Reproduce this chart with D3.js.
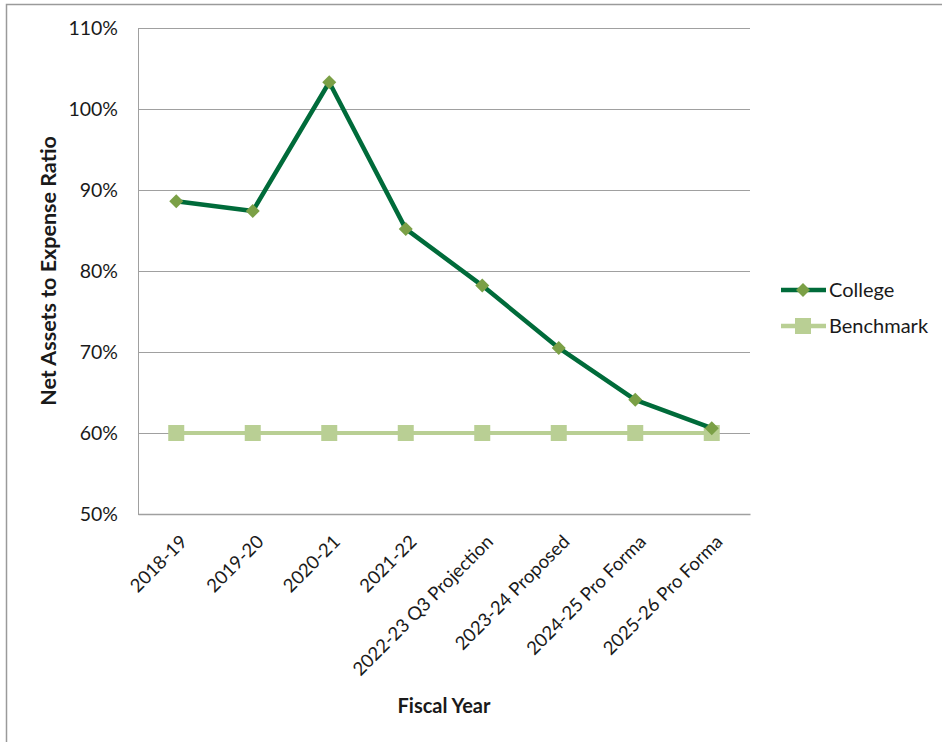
<!DOCTYPE html>
<html>
<head>
<meta charset="utf-8">
<script src="https://cdn.jsdelivr.net/npm/d3@7"></script>
<style>
  body { margin: 0; background: #fff; }
  text { font-family: Lato, "Open Sans", sans-serif; fill: #1a1a1a; }
</style>
</head>
<body>
<div id="chart"></div>
<script>
// chart data
const categories = ["2018-19", "2019-20", "2020-21", "2021-22", "2022-23 Q3 Projection",
    "2023-24 Proposed", "2024-25 Pro Forma", "2025-26 Pro Forma"];
const college = [0.886, 0.874, 1.033, 0.852, 0.782, 0.705, 0.641, 0.606];
const benchmark = [0.60, 0.60, 0.60, 0.60, 0.60, 0.60, 0.60, 0.60];
const yTicks = [0.5, 0.6, 0.7, 0.8, 0.9, 1.0, 1.1];
const seriesNames = ["College", "Benchmark"];

const width = 942, height = 742;
const margin = {top: 28, left: 138, right: 192, bottom: 228};
const plotW = width - margin.left - margin.right;
const plotH = height - margin.top - margin.bottom;

const svg = d3.select("#chart").append("svg")
    .attr("width", width)
    .attr("height", height);

// outer frame (runs off the right/bottom edge like the original)
svg.append("rect")
    .attr("x", 6.5).attr("y", 4.5)
    .attr("width", 960).attr("height", 760)
    .attr("fill", "none")
    .attr("stroke", "#9a9a9a")
    .attr("stroke-width", 1.5);

const g = svg.append("g").attr("transform", `translate(${margin.left},${margin.top})`);

const x = d3.scaleBand().domain(categories).range([0, plotW]);
const y = d3.scaleLinear().domain([0.5, 1.1]).range([plotH, 0]);
const cx = d => x(d) + x.bandwidth() / 2;

// gridlines
g.append("g")
    .selectAll("line")
    .data(yTicks)
    .enter().append("line")
    .attr("x1", 0).attr("x2", plotW)
    .attr("y1", d => Math.round(y(d)) + 0.5)
    .attr("y2", d => Math.round(y(d)) + 0.5)
    .attr("stroke", "#a0a0a0")
    .attr("stroke-width", 1);

// y axis
const yAxis = g.append("g")
    .call(d3.axisLeft(y).tickValues(yTicks).tickFormat(d3.format(".0%")).tickSize(0).tickPadding(20));
yAxis.select(".domain").attr("stroke", "#a0a0a0");
yAxis.selectAll("text")
    .style("font-size", "19.5px")
    .attr("fill", "#1a1a1a");

// x axis
const xAxis = g.append("g")
    .attr("transform", `translate(0,${plotH})`)
    .call(d3.axisBottom(x).tickSize(0).tickPadding(0));
xAxis.select(".domain").attr("stroke", "#a0a0a0").attr("stroke-width", 1.5);
xAxis.selectAll("text")
    .style("font-size", "18.5px")
    .attr("fill", "#1a1a1a")
    .attr("text-anchor", "end")
    .attr("dy", 0)
    .attr("transform", "translate(12,29) rotate(-45)");

// benchmark series
const line = d3.line()
    .x((d, i) => cx(categories[i]))
    .y(d => y(d));

g.append("path")
    .datum(benchmark)
    .attr("d", line)
    .attr("fill", "none")
    .attr("stroke", "#b9cf94")
    .attr("stroke-width", 4);

g.append("g")
    .selectAll("rect")
    .data(benchmark)
    .enter().append("rect")
    .attr("x", (d, i) => cx(categories[i]) - 8)
    .attr("y", d => y(d) - 8)
    .attr("width", 16).attr("height", 16)
    .attr("fill", "#b9cf94");

// college series
g.append("path")
    .datum(college)
    .attr("d", line)
    .attr("fill", "none")
    .attr("stroke", "#006b3a")
    .attr("stroke-width", 4.5)
    .attr("stroke-linejoin", "round");

g.append("g")
    .selectAll("path")
    .data(college)
    .enter().append("path")
    .attr("d", d3.symbol(d3.symbolDiamond2, 125))
    .attr("transform", (d, i) => `translate(${cx(categories[i])},${y(d)})`)
    .attr("fill", "#7ba046");

// axis titles
svg.append("text")
    .attr("x", margin.left + plotW / 2)
    .attr("y", 713)
    .attr("text-anchor", "middle")
    .style("font-size", "20px")
    .style("font-weight", "bold")
    .text("Fiscal Year");

svg.append("text")
    .attr("transform", `translate(56,${margin.top + plotH / 2}) rotate(-90)`)
    .attr("text-anchor", "middle")
    .style("font-size", "21.5px")
    .style("font-weight", "bold")
    .text("Net Assets to Expense Ratio");

// legend
const legend = svg.append("g").attr("transform", "translate(781,290)");
const colors = {College: ["#006b3a", "#7ba046"], Benchmark: ["#b9cf94", "#b9cf94"]};
seriesNames.forEach((name, i) => {
    const row = legend.append("g").attr("transform", `translate(0,${i * 36})`);
    row.append("line")
        .attr("x1", 0).attr("x2", 45)
        .attr("stroke", colors[name][0])
        .attr("stroke-width", 4.5);
    if (name === "College") {
        row.append("path")
            .attr("d", d3.symbol(d3.symbolDiamond2, 125))
            .attr("transform", "translate(22,0)")
            .attr("fill", colors[name][1]);
    } else {
        row.append("rect")
            .attr("x", 14).attr("y", -8)
            .attr("width", 16).attr("height", 16)
            .attr("fill", colors[name][1]);
    }
    row.append("text")
        .attr("x", 48)
        .attr("y", 7)
        .style("font-size", "20px")
        .text(name);
});
</script>
</body>
</html>
